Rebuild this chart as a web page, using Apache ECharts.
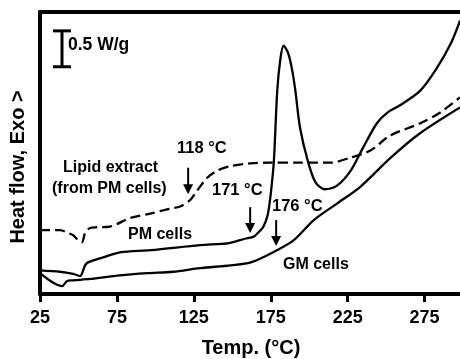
<!DOCTYPE html>
<html>
<head>
<meta charset="utf-8">
<script src="https://cdn.jsdelivr.net/npm/echarts@6.0.0/dist/echarts.min.js"></script>
<style>
  html, body { margin: 0; padding: 0; background: #fff; }
  #chart { width: 460px; height: 359px; }
</style>
</head>
<body>
<div id="chart"></div>
<script>
// DSC traces, temperature (°C) vs heat flow (W/g, offset, exo up)
const pmCells = [
  [25, 0.33], [38, 0.31], [46.5, 0.28], [51, 0.25], [54.3, 0.40], [56.2, 0.44], [66, 0.51],
  [77, 0.58], [97, 0.61], [129, 0.68], [148, 0.71], [158, 0.77], [164, 0.80], [167, 0.86],
  [170, 0.93], [173, 1.10], [175, 1.40], [177, 1.85], [179.2, 2.83], [181.1, 3.25],
  [183.3, 3.46], [186.4, 3.35], [189, 3.11], [191, 2.83], [194, 2.32], [199, 1.86],
  [204, 1.56], [210, 1.46], [218, 1.51], [227, 1.72], [235, 2.04], [244, 2.38], [251, 2.53],
  [259, 2.63], [272, 2.83], [283, 3.15], [292, 3.49], [298, 3.81]
];
const gmCells = [
  [25, 0.29], [39.3, 0.11], [42.6, 0.18], [46.5, 0.19], [57.5, 0.21], [77, 0.26], [95, 0.29],
  [111.5, 0.31], [129, 0.36], [149, 0.40], [162, 0.44], [179, 0.61], [190, 0.75], [203, 1.03],
  [218, 1.26], [233, 1.49], [253, 1.90], [272, 2.24], [298, 2.60]
];
const lipidExtract = [
  [25, 0.89], [38, 0.89], [43.2, 0.85], [46.5, 0.82], [49.7, 0.75], [52.3, 0.72], [54.3, 0.85],
  [57.5, 0.92], [62, 0.93], [70.5, 0.94], [83.6, 1.06], [96.6, 1.12], [109.6, 1.19],
  [116.1, 1.22], [122.6, 1.31], [127.1, 1.44], [133.7, 1.62], [140.2, 1.72], [148.6, 1.78],
  [161.6, 1.82], [174.6, 1.83], [194, 1.83], [213.7, 1.83], [226.7, 1.90], [239.7, 2.00],
  [252.7, 2.21], [272.2, 2.38], [285.2, 2.53], [298, 2.74]
];
// onset arrows: [temp, yTop, yTip]
const arrows = [
  [121.3, 1.76, 1.39],
  [161.6, 1.21, 0.85],
  [178.5, 1.03, 0.67]
];
// 0.5 W/g scale bar: [temp, yBottom, yTop]
const scaleBar = [[39.3, 3.167, 3.667]];
const xTicks = [25, 75, 125, 175, 225, 275];

const FONT = 'Arial, "Liberation Sans", sans-serif';
const chart = echarts.init(document.getElementById('chart'), null, { renderer: 'canvas' });

function txt(text, x, y, size, align) {
  return {
    type: 'text', x: x, y: y,
    style: {
      text: text, fill: '#000', font: 'bold ' + size + 'px ' + FONT,
      textAlign: align || 'left', textVerticalAlign: 'middle'
    }
  };
}

const lineSeries = (name, data, dashed) => ({
  name, type: 'line', data, smooth: 0.3, symbol: 'none', silent: true,
  lineStyle: { color: '#000', width: 2.3, type: dashed ? [10, 5] : 'solid' }
});

chart.setOption({
  animation: false,
  backgroundColor: '#fff',
  grid: { left: 40, right: 0, top: 12, bottom: 65 },
  xAxis: [
    {
      type: 'value', min: 25, max: 298,
      axisLine: { show: true, lineStyle: { color: '#000', width: 4 } },
      axisTick: { show: true, customValues: xTicks, length: 8, lineStyle: { color: '#000', width: 3 } },
      axisLabel: { customValues: xTicks, margin: 15, color: '#000', fontSize: 18, fontWeight: 'bold', fontFamily: FONT },
      splitLine: { show: false }
    },
    {
      type: 'value', position: 'top', min: 25, max: 298,
      axisLine: { show: true, lineStyle: { color: '#000', width: 4 } },
      axisTick: { show: false }, axisLabel: { show: false }, splitLine: { show: false }
    }
  ],
  yAxis: {
    type: 'value', min: 0, max: 3.93,
    axisLine: { show: true, lineStyle: { color: '#000', width: 4 } },
    axisTick: { show: false }, axisLabel: { show: false }, splitLine: { show: false }
  },
  series: [
    lineSeries('Lipid extract', lipidExtract, true),
    lineSeries('PM cells', pmCells, false),
    lineSeries('GM cells', gmCells, false),
    {
      type: 'custom', silent: true, data: arrows,
      renderItem(params, api) {
        const top = api.coord([api.value(0), api.value(1)]);
        const tip = api.coord([api.value(0), api.value(2)]);
        return {
          type: 'group', children: [
            { type: 'line', shape: { x1: top[0], y1: top[1], x2: tip[0], y2: tip[1] - 6 }, style: { stroke: '#000', lineWidth: 2 } },
            { type: 'polygon', shape: { points: [[tip[0] - 5, tip[1] - 10], [tip[0] + 5, tip[1] - 10], [tip[0], tip[1]]] }, style: { fill: '#000' } }
          ]
        };
      }
    },
    {
      type: 'custom', silent: true, data: scaleBar,
      renderItem(params, api) {
        const bot = api.coord([api.value(0), api.value(1)]);
        const top = api.coord([api.value(0), api.value(2)]);
        const s = { stroke: '#000', lineWidth: 3 };
        return {
          type: 'group', children: [
            { type: 'line', shape: { x1: top[0], y1: top[1], x2: bot[0], y2: bot[1] }, style: s },
            { type: 'line', shape: { x1: top[0] - 9, y1: top[1], x2: top[0] + 9, y2: top[1] }, style: s },
            { type: 'line', shape: { x1: bot[0] - 9, y1: bot[1], x2: bot[0] + 9, y2: bot[1] }, style: s }
          ]
        };
      }
    }
  ],
  graphic: [
    txt('0.5 W/g', 68, 45, 17.5),
    txt('118 °C', 177, 148, 16.5),
    txt('Lipid extract', 63, 168, 16),
    txt('(from PM cells)', 52, 189, 16),
    txt('171 °C', 212, 190, 16.5),
    txt('176 °C', 272, 206, 16.5),
    txt('PM cells', 128, 235, 16),
    txt('GM cells', 283, 265, 16),
    txt('Temp. (°C)', 251, 348, 20, 'center'),
    Object.assign(txt('Heat flow, Exo >', 0, 0, 20, 'center'), { x: 18, y: 167, rotation: Math.PI / 2 })
  ]
});
</script>
</body>
</html>
